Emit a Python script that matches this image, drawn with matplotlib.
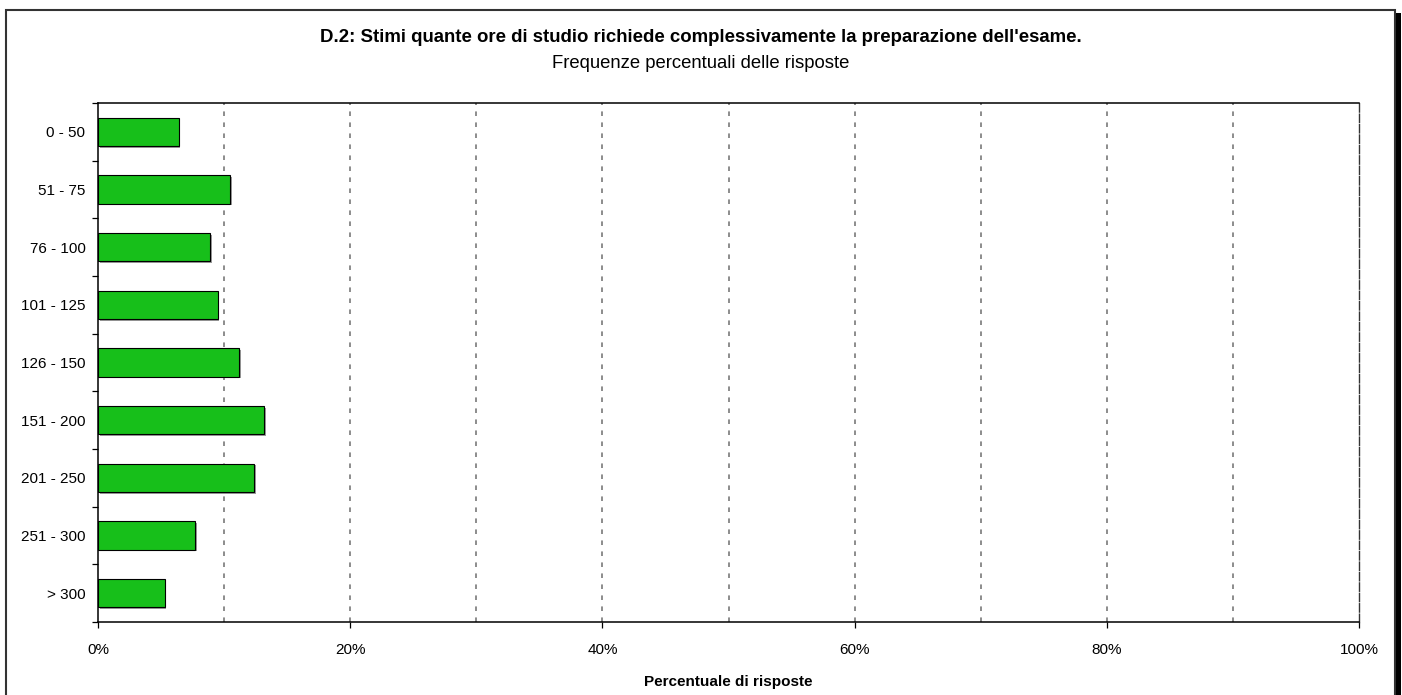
"""
Horizontal bar chart: D.2 - ore di studio per la preparazione dell'esame.
Saves: out.png
"""

import matplotlib
matplotlib.use("Agg")
import matplotlib.pyplot as plt
import matplotlib.patheffects as pe
from matplotlib.patches import Rectangle
from matplotlib.ticker import FixedLocator, FuncFormatter
import numpy as np

plt.rcParams["font.family"] = ["Liberation Sans", "DejaVu Sans"]

# ---------------------------------------------------------------------------
# Data (percent of answers)
# ---------------------------------------------------------------------------
categories = ["0 - 50", "51 - 75", "76 - 100", "101 - 125", "126 - 150",
              "151 - 200", "201 - 250", "251 - 300", "> 300"]
percent = [6.4, 10.5, 8.9, 9.5, 11.2, 13.2, 12.4, 7.7, 5.3]

title = "D.2: Stimi quante ore di studio richiede complessivamente la preparazione dell'esame."
subtitle = "Frequenze percentuali delle risposte"
xlabel = "Percentuale di risposte"

W, H = 1402, 695
BAR_COLOR = "#17bf1a"
GRID_COLOR = "#6e6e6e"


def main():
    fig = plt.figure(figsize=(W / 100, H / 100), dpi=100)
    ax = fig.add_axes([98 / W, 1 - 622 / H, (1359 - 98) / W, (622 - 103) / H])

    y = np.arange(len(categories))
    bars = ax.barh(y, percent, height=0.49, color=BAR_COLOR,
                   edgecolor="black", linewidth=0.8, zorder=3)
    for b in bars:
        b.set_path_effects([pe.SimplePatchShadow(offset=(1.2, -1.2),
                                                 shadow_rgbFace="#9a9a9a", alpha=1.0),
                            pe.Normal()])

    ax.set_xlim(0, 100)
    ax.set_ylim(len(categories) - 0.5, -0.5)

    # dashed vertical grid at every 10 %
    for gx in range(10, 100, 10):
        ax.axvline(gx, color=GRID_COLOR, lw=1.1, ls=(0, (3.0, 4.2)), zorder=1)

    # ticks
    ax.xaxis.set_major_locator(FixedLocator(range(0, 101, 20)))
    ax.xaxis.set_major_formatter(FuncFormatter(lambda v, p: f"{v:.0f}%"))
    ax.tick_params(axis="x", direction="out", length=4, width=0.9,
                   labelsize=11, pad=11)
    ax.set_yticks(y)
    ax.set_yticklabels(categories)
    ax.set_yticks(np.arange(-0.5, len(categories)), minor=True)
    ax.tick_params(axis="y", which="major", length=0, labelsize=11, pad=9)
    ax.tick_params(axis="y", which="minor", direction="out", length=4, width=0.9)

    for s in ("left", "bottom", "top"):
        ax.spines[s].set_linewidth(1.1)
        ax.spines[s].set_color("black")
    ax.spines["right"].set_linewidth(1.0)
    ax.spines["right"].set_color("#333333")
    ax.spines["right"].set_linestyle((0, (6, 1.5)))

    ax.set_xlabel(xlabel, fontsize=11, fontweight="bold", labelpad=13)

    fig.text(0.5, 1 - 38 / H, title, ha="center", va="center",
             fontsize=13.4, fontweight="bold")
    fig.text(0.5, 1 - 63 / H, subtitle, ha="center", va="center", fontsize=13.3)

    # outer frame with shadow on the right
    fig.patches.append(Rectangle((6 / W, -0.01), (1395 - 6) / W, 1 - 9.5 / H + 0.01,
                                 transform=fig.transFigure, fill=False,
                                 edgecolor="#333333", lw=1.5, zorder=0))
    fig.patches.append(Rectangle((1395.5 / W, 0), 5 / W, 1 - 13 / H,
                                 transform=fig.transFigure, facecolor="black",
                                 edgecolor="none", zorder=0))

    fig.savefig("out.png", dpi=100)


if __name__ == "__main__":
    main()
